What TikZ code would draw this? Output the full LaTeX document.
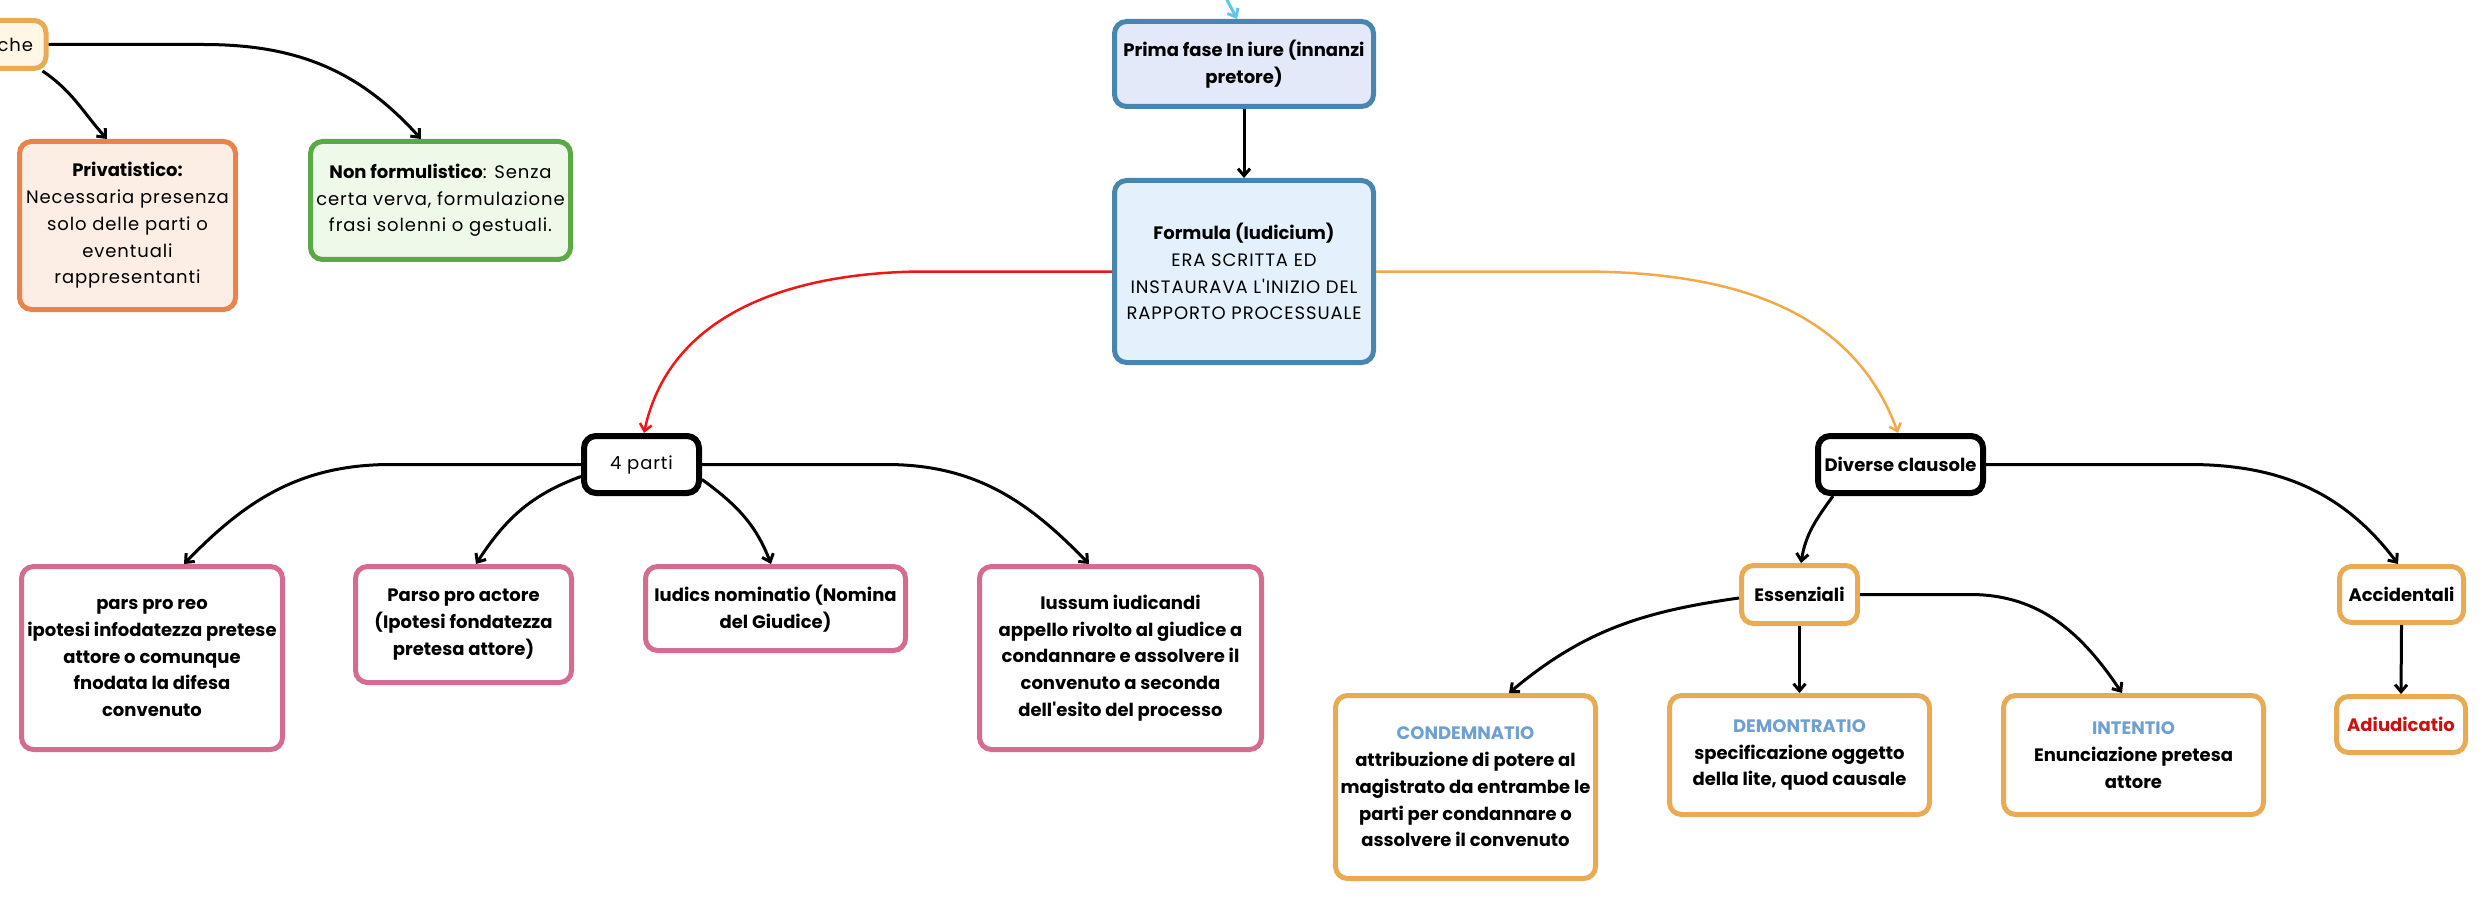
\documentclass[tikz,border=0pt]{standalone}
\usepackage{fontspec}
\setmainfont{Poppins}[Ligatures=TeXOff, UprightFeatures={LetterSpace=5}]
\usetikzlibrary{arrows.meta,calc}
\definecolor{oraB}{RGB}{232,170,82}
\definecolor{cheF}{RGB}{255,246,230}
\definecolor{privB}{RGB}{232,131,74}
\definecolor{privF}{RGB}{252,238,228}
\definecolor{grnB}{RGB}{90,168,70}
\definecolor{grnF}{RGB}{239,249,233}
\definecolor{bluB}{RGB}{72,134,176}
\definecolor{primaF}{RGB}{228,233,250}
\definecolor{formF}{RGB}{228,241,252}
\definecolor{pinkB}{RGB}{214,107,145}
\definecolor{headB}{RGB}{110,160,210}
\definecolor{redT}{RGB}{204,17,17}
\definecolor{redC}{RGB}{240,22,22}
\definecolor{oraC}{RGB}{245,168,70}
\definecolor{ltblue}{RGB}{100,195,235}
\begin{document}
\begin{tikzpicture}[x=1pt,y=1pt,
  base/.style={rounded corners=12pt, line width=5pt, align=center, inner sep=0pt,
    font=\fontsize{18}{26.7}\selectfont},
  obox/.style={base, draw=oraB, fill=white},
  pbox/.style={base, draw=pinkB, fill=white},
  kbox/.style={base, draw=black, fill=white, line width=6pt},
  conn/.style={line width=3pt, -{Straight Barb[length=7pt,width=12pt]}},
]
\useasboundingbox (0,0) rectangle (2488,-901);
\fill[white] (0,0) rectangle (2488,-901);
\clip (0,0) rectangle (2488,-901);

% top row
\node[base, draw=oraB, fill=cheF, anchor=east, minimum height=48pt] (che) at (48.5,-44.5)
  {\makebox[126pt][r]{che}\hspace{13pt}};
\node[base, draw=privB, fill=privF, minimum width=216pt, minimum height=168pt] (priv) at (127.5,-225.5)
  {\textbf{Privatistico:}\\Necessaria presenza\\solo delle parti o\\eventuali\\rappresentanti};
\node[base, draw=grnB, fill=grnF, minimum width=260pt, minimum height=118pt] (nonf) at (440.5,-200.5)
  {\textbf{Non formulistico}: Senza\\certa verva, formulazione\\frasi solenni o gestuali.};
\node[base, draw=bluB, fill=primaF, minimum width=259pt, minimum height=85pt] (prima) at (1244,-64)
  {\textbf{Prima fase In iure (innanzi}\\\textbf{pretore)}};
\node[base, draw=bluB, fill=formF, minimum width=259pt, minimum height=182pt] (formula) at (1244,-271.5)
  {\textbf{Formula (Iudicium)}\\ERA SCRITTA ED\\INSTAURAVA L'INIZIO DEL\\RAPPORTO PROCESSUALE};

% middle
\node[kbox, minimum width=115pt, minimum height=57pt] (parti) at (641.5,-464.5) {4 parti};
\node[kbox, minimum width=165pt, minimum height=57pt] (diverse) at (1900.5,-464.5) {\textbf{Diverse clausole}};

% pink row
\node[pbox, minimum width=261pt, minimum height=183pt] (reo) at (152,-658)
  {\textbf{pars pro reo}\\\textbf{ipotesi infodatezza pretese}\\\textbf{attore o comunque}\\\textbf{fnodata la difesa}\\\textbf{convenuto}};
\node[pbox, minimum width=216pt, minimum height=116pt] (actore) at (463.5,-624.5)
  {\textbf{Parso pro actore}\\\textbf{(Ipotesi fondatezza}\\\textbf{pretesa attore)}};
\node[pbox, minimum width=260pt, minimum height=84pt] (iudics) at (775.5,-608.5)
  {\textbf{Iudics nominatio (Nomina}\\\textbf{del Giudice)}};
\node[pbox, minimum width=282pt, minimum height=183pt] (iussum) at (1120.5,-658)
  {\textbf{Iussum iudicandi}\\\textbf{appello rivolto al giudice a}\\\textbf{condannare e assolvere il}\\\textbf{convenuto a seconda}\\\textbf{dell'esito del processo}};

% orange row
\node[obox, minimum width=116pt, minimum height=58pt] (essenz) at (1799.5,-594.5) {\textbf{Essenziali}};
\node[obox, minimum width=124pt, minimum height=56pt] (accid) at (2401.5,-594.5) {\textbf{Accidentali}};
\node[obox, minimum width=260pt, minimum height=183pt] (condem) at (1465.5,-787)
  {\textbf{\color{headB}CONDEMNATIO}\\\textbf{attribuzione di potere al}\\\textbf{magistrato da entrambe le}\\\textbf{parti per condannare o}\\\textbf{assolvere il convenuto}};
\node[obox, minimum width=260pt, minimum height=119pt] (demon) at (1799.5,-755)
  {\textbf{\color{headB}DEMONTRATIO}\\\textbf{specificazione oggetto}\\\textbf{della lite, quod causale}};
\node[obox, minimum width=260pt, minimum height=119pt] (intent) at (2133.5,-755)
  {\textbf{\color{headB}INTENTIO}\\\textbf{Enunciazione pretesa}\\\textbf{attore}};
\node[obox, minimum width=129pt, minimum height=56pt] (adiud) at (2401,-724.5) {\textbf{\color{redT}Adiudicatio}};

% connectors
\coordinate (topin) at (1226,2);
\draw[conn, draw=ltblue] (topin) -- ($(prima.north)+(-7,0)$);
\draw[conn] (prima.south) -- (formula.north);
\draw[conn, draw=redC, line width=2.5pt] (formula.west) -- ++(-185,0)
  to[out=180,in=78] ($(parti.north)+(2.5,0)$);
\draw[conn, draw=oraC, line width=2.5pt] (formula.east) -- ++(203,0)
  to[out=0,in=110] ($(diverse.north)+(-2.5,0)$);
\draw[conn] (che.east) -- ++(155,0) to[out=0,in=132] ($(nonf.north)+(-19.5,0)$);
\draw[conn] ($(che.south east)+(-6,0)$) to[out=-34,in=132] ($(priv.north)+(-20.5,0)$);
\draw[conn] (parti.west) -- ++(-190,0) to[out=180,in=46] ($(reo.north)+(32,0)$);
\draw[conn] ($(parti.west)+(0,-12)$) to[out=200,in=57] ($(actore.north)+(12.5,0)$);
\draw[conn] ($(parti.east)+(0,-15)$) to[out=-36,in=111] ($(iudics.north)+(-4.5,0)$);
\draw[conn] (parti.east) -- ++(184,0) to[out=0,in=134] ($(iussum.north)+(-31.5,0)$);
\draw[conn] ($(diverse.south)+(-67.5,0)$) to[out=-126,in=81] ($(essenz.north)+(1.5,0)$);
\draw[conn] (diverse.east) -- ++(203,0) to[out=0,in=127] ($(accid.north)+(-3.5,0)$);
\draw[conn] ($(essenz.west)+(0,-3.5)$) to[out=188,in=40] ($(condem.north)+(43.5,0)$);
\draw[conn] (essenz.south) -- (demon.north);
\draw[conn] (essenz.east) -- ++(110,0) to[out=0,in=124] ($(intent.north)+(-11.5,0)$);
\draw[conn] (accid.south) -- (adiud.north);
\end{tikzpicture}
\end{document}
